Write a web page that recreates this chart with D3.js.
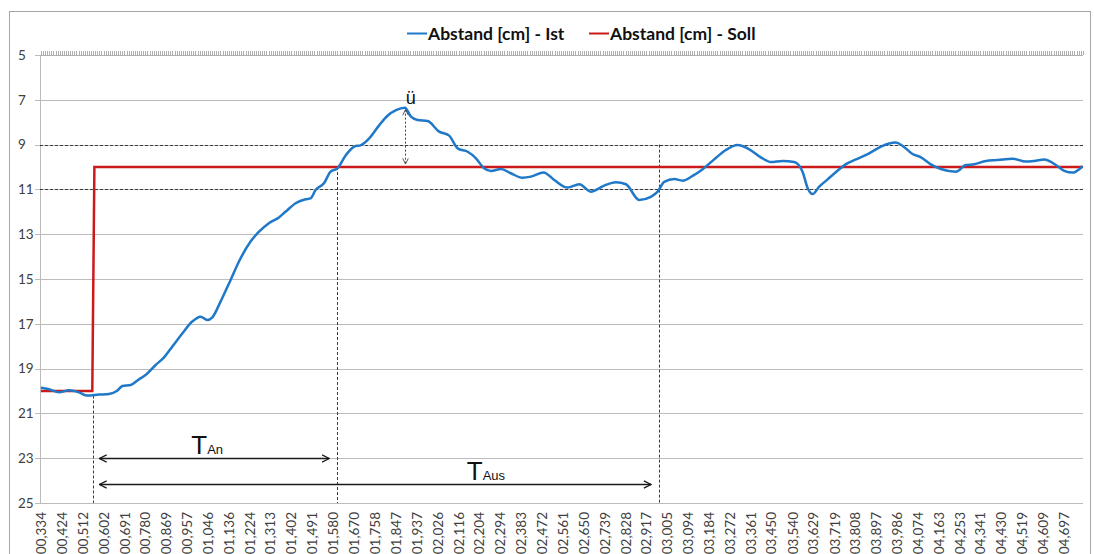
<!DOCTYPE html>
<html>
<head>
<meta charset="utf-8">
<script src="https://cdn.jsdelivr.net/npm/d3@7"></script>
<style>
  body { margin: 0; background: #fff; }
  svg { display: block; }
</style>
</head>
<body>
<svg id="chart" width="1094" height="554"></svg>
<script>
// Measured distance (Ist) over time in seconds
const zeitIst = [0.334, 0.368, 0.411, 0.453, 0.496, 0.531, 0.581, 0.624, 0.659, 0.681,
  0.717, 0.752, 0.780, 0.823, 0.859, 0.894, 0.937, 0.979, 1.015, 1.043,
  1.065, 1.100, 1.143, 1.178, 1.228, 1.264, 1.306, 1.349, 1.378, 1.420,
  1.463, 1.484, 1.505, 1.541, 1.569, 1.598, 1.635, 1.670, 1.699, 1.734,
  1.777, 1.812, 1.848, 1.886, 1.912, 1.940, 1.983, 2.032, 2.075, 2.111,
  2.154, 2.189, 2.224, 2.253, 2.296, 2.338, 2.388, 2.424, 2.478, 2.523,
  2.580, 2.630, 2.679, 2.736, 2.786, 2.829, 2.885, 2.935, 2.964, 2.992,
  3.035, 3.071, 3.113, 3.156, 3.205, 3.255, 3.305, 3.355, 3.404, 3.447,
  3.497, 3.546, 3.582, 3.604, 3.625, 3.653, 3.689, 3.731, 3.767, 3.810,
  3.866, 3.916, 3.980, 4.009, 4.051, 4.087, 4.129, 4.172, 4.236, 4.279,
  4.314, 4.364, 4.414, 4.478, 4.534, 4.570, 4.613, 4.662, 4.698, 4.734,
  4.762, 4.776];
const abstandIst = [19.85, 19.92, 20.06, 19.97, 20.06, 20.20, 20.16, 20.13, 19.99, 19.78,
  19.73, 19.48, 19.29, 18.84, 18.50, 18.02, 17.43, 16.90, 16.68, 16.83,
  16.71, 16.01, 15.04, 14.23, 13.33, 12.89, 12.51, 12.25, 11.99, 11.62,
  11.44, 11.40, 11.03, 10.73, 10.21, 10.06, 9.46, 9.09, 9.02, 8.72,
  8.13, 7.71, 7.46, 7.35, 7.75, 7.90, 7.95, 8.42, 8.60, 9.17,
  9.32, 9.61, 10.06, 10.18, 10.09, 10.28, 10.48, 10.43, 10.24, 10.58,
  10.92, 10.77, 11.10, 10.83, 10.68, 10.77, 11.47, 11.33, 11.10, 10.66,
  10.54, 10.61, 10.40, 10.10, 9.66, 9.24, 9.02, 9.21, 9.57, 9.78,
  9.73, 9.78, 10.21, 10.95, 11.21, 10.88, 10.55, 10.17, 9.87, 9.66,
  9.39, 9.09, 8.91, 9.06, 9.42, 9.57, 9.88, 10.09, 10.21, 9.91,
  9.88, 9.73, 9.69, 9.63, 9.76, 9.73, 9.66, 9.91, 10.17, 10.25,
  10.10, 9.96];

// Set point (Soll): step from 20 cm to 10 cm
const zeitSoll = [0.334, 0.553, 0.562, 4.778];
const abstandSoll = [20, 20, 10, 10];

// Category labels on the time axis
const xTickLabels = ["00,334", "00,424", "00,512", "00,602", "00,691", "00,780", "00,869", "00,957",
  "01,046", "01,136", "01,224", "01,313", "01,402", "01,491", "01,580", "01,670", "01,758",
  "01,847", "01,937", "02,026", "02,116", "02,204", "02,294", "02,383", "02,472", "02,561",
  "02,650", "02,739", "02,828", "02,917", "03,005", "03,094", "03,184", "03,272", "03,361",
  "03,450", "03,540", "03,629", "03,719", "03,808", "03,897", "03,986", "04,074", "04,163",
  "04,253", "04,341", "04,430", "04,519", "04,609", "04,697"];
const yTicks = [5, 7, 9, 11, 13, 15, 17, 19, 21, 23, 25];

// Tolerance band and characteristic times
const toleranzBand = [9, 11];
const tSprung = 0.558;
const tAnregel = 1.598;
const tAusregel = 2.970;
const tMax = 1.886;
const maxWert = 7.35;
const sollWert = 10;
const yTAn = 23.0;
const yTAus = 24.15;

const svg = d3.select("#chart");
const plotL = 40, plotR = 1083, plotT = 55, plotB = 503;
const uiFont = "Lato, 'Open Sans', sans-serif";
const noteFont = "'Liberation Sans', Arial, sans-serif";

const x = d3.scaleLinear().domain([0.330, 4.778]).range([plotL, plotR]);
const y = d3.scaleLinear().domain([5, 25]).range([plotT, plotB]);

// Chart frame
svg.append("rect")
  .attr("x", 9.5).attr("y", 11.5)
  .attr("width", 1081).attr("height", 600)
  .attr("fill", "#fff").attr("stroke", "#a6a6a6");

// Horizontal gridlines with ticks on the value axis
const yAxis = d3.axisLeft(y).tickValues(yTicks).tickSize(plotR - plotL + 5).tickFormat("");
svg.append("g")
  .attr("transform", `translate(${plotR},0)`)
  .call(yAxis)
  .call(g => g.select(".domain").remove())
  .call(g => g.selectAll(".tick line").attr("stroke", "#bcbcbc").attr("shape-rendering", "crispEdges"));

// Value axis labels
svg.append("g").selectAll("text")
  .data(yTicks)
  .join("text")
  .attr("x", 18)
  .attr("y", d => y(d))
  .attr("dy", "0.36em")
  .attr("font-family", uiFont)
  .attr("font-size", 13.5)
  .attr("fill", "#404040")
  .text(d => d);

// Value axis line
svg.append("line")
  .attr("x1", plotL).attr("x2", plotL)
  .attr("y1", plotT).attr("y2", plotB)
  .attr("stroke", "#bcbcbc").attr("shape-rendering", "crispEdges");

// Category axis (at the top because of the reversed value axis): one tick per sample
const sampleStep = (4.697 - 0.334) / 490;
const catTicks = d3.range(0.334, 4.778, sampleStep);
svg.append("g").selectAll("line")
  .data(catTicks)
  .join("line")
  .attr("x1", d => Math.round(x(d)) + 0.5).attr("x2", d => Math.round(x(d)) + 0.5)
  .attr("y1", plotT - 4).attr("y2", plotT)
  .attr("stroke", "#b0b0b0");
svg.append("line")
  .attr("x1", plotL).attr("x2", plotR)
  .attr("y1", plotT + 0.5).attr("y2", plotT + 0.5)
  .attr("stroke", "#b0b0b0");

// Category labels, rotated, below the plot
svg.append("g").selectAll("text")
  .data(xTickLabels)
  .join("text")
  .attr("transform", d => `translate(${x(+d.replace(",", "."))},512) rotate(-90)`)
  .attr("text-anchor", "end")
  .attr("dy", "0.36em")
  .attr("font-family", uiFont)
  .attr("font-size", 13.5)
  .attr("fill", "#404040")
  .text(d => d);

// Tolerance band (dashed)
const dash = "3,2";
svg.append("g").selectAll("line")
  .data(toleranzBand)
  .join("line")
  .attr("x1", plotL).attr("x2", plotR)
  .attr("y1", d => Math.round(y(d)) + 0.5).attr("y2", d => Math.round(y(d)) + 0.5)
  .attr("stroke", "#3a3a3a").attr("stroke-dasharray", dash);

// Vertical dashed markers
const vMarks = [
  { t: tSprung, from: 20.2 },
  { t: tAnregel, from: sollWert },
  { t: tAusregel, from: toleranzBand[0] }
];
svg.append("g").selectAll("line")
  .data(vMarks)
  .join("line")
  .attr("x1", d => Math.round(x(d.t)) + 0.5).attr("x2", d => Math.round(x(d.t)) + 0.5)
  .attr("y1", d => y(d.from)).attr("y2", plotB)
  .attr("stroke", "#3a3a3a").attr("stroke-dasharray", dash);

// Series lines
const line = d3.line().x(d => x(d[0])).y(d => y(d[1])).curve(d3.curveMonotoneX);
const soll = d3.line().x(d => x(d[0])).y(d => y(d[1]));

svg.append("path")
  .datum(d3.zip(zeitSoll, abstandSoll))
  .attr("d", soll)
  .attr("fill", "none").attr("stroke", "#cc1a1a").attr("stroke-width", 2.5);

svg.append("path")
  .datum(d3.zip(zeitIst, abstandIst))
  .attr("d", line)
  .attr("fill", "none").attr("stroke", "#1f78c8").attr("stroke-width", 2.5)
  .attr("stroke-linejoin", "round");

// Arrow markers
const defs = svg.append("defs");
defs.append("marker")
  .attr("id", "pfeil")
  .attr("viewBox", "0 0 10 10")
  .attr("refX", 9).attr("refY", 5)
  .attr("markerWidth", 9).attr("markerHeight", 9)
  .attr("markerUnits", "userSpaceOnUse")
  .attr("orient", "auto-start-reverse")
  .append("path")
  .attr("d", "M1,1 L9,5 L1,9")
  .attr("fill", "none").attr("stroke", "#1a1a1a").attr("stroke-width", 1.4);
defs.append("marker")
  .attr("id", "pfeilKlein")
  .attr("viewBox", "0 0 10 10")
  .attr("refX", 9).attr("refY", 5)
  .attr("markerWidth", 7).attr("markerHeight", 7)
  .attr("markerUnits", "userSpaceOnUse")
  .attr("orient", "auto-start-reverse")
  .append("path")
  .attr("d", "M1,1 L9,5 L1,9")
  .attr("fill", "none").attr("stroke", "#444").attr("stroke-width", 1.3);

// Overshoot arrow (ü)
svg.append("line")
  .attr("x1", Math.round(x(tMax)) + 0.5).attr("x2", Math.round(x(tMax)) + 0.5)
  .attr("y1", y(maxWert) + 2).attr("y2", y(sollWert) - 3)
  .attr("stroke", "#444").attr("stroke-dasharray", "2,2")
  .attr("marker-start", "url(#pfeilKlein)").attr("marker-end", "url(#pfeilKlein)");
svg.append("text")
  .attr("x", x(tMax) + 1).attr("y", 104)
  .attr("font-family", noteFont)
  .attr("font-size", 18).attr("fill", "#111")
  .text("ü");

// Rise time and settling time arrows
const arrows = [
  { t0: tSprung, t1: tAnregel, v: yTAn, label: "An", tx: 0.975 },
  { t0: tSprung, t1: tAusregel, v: yTAus, label: "Aus", tx: 2.150 }
];
arrows.forEach(a => {
  svg.append("line")
    .attr("x1", x(a.t0) + 6).attr("x2", x(a.t1) - 8)
    .attr("y1", Math.round(y(a.v)) + 0.5).attr("y2", Math.round(y(a.v)) + 0.5)
    .attr("stroke", "#1a1a1a").attr("stroke-width", 1.3)
    .attr("marker-start", "url(#pfeil)").attr("marker-end", "url(#pfeil)");
  const t = svg.append("text")
    .attr("x", x(a.tx)).attr("y", y(a.v) - 4)
    .attr("font-family", noteFont)
    .attr("fill", "#111");
  t.append("tspan").attr("font-size", 26).text("T");
  t.append("tspan").attr("font-size", 13).text(a.label);
});

// Legend
const legend = [
  { name: "Abstand [cm] - Ist", color: "#1f78c8", x: 407 },
  { name: "Abstand [cm] - Soll", color: "#cc1a1a", x: 589 }
];
const lg = svg.append("g");
legend.forEach(l => {
  lg.append("line")
    .attr("x1", l.x).attr("x2", l.x + 20)
    .attr("y1", 33.5).attr("y2", 33.5)
    .attr("stroke", l.color).attr("stroke-width", 2);
  lg.append("text")
    .attr("x", l.x + 21).attr("y", 40)
    .attr("font-family", uiFont)
    .attr("font-weight", "bold")
    .attr("font-size", 17.5)
    .attr("fill", "#111")
    .text(l.name);
});
</script>
</body>
</html>
